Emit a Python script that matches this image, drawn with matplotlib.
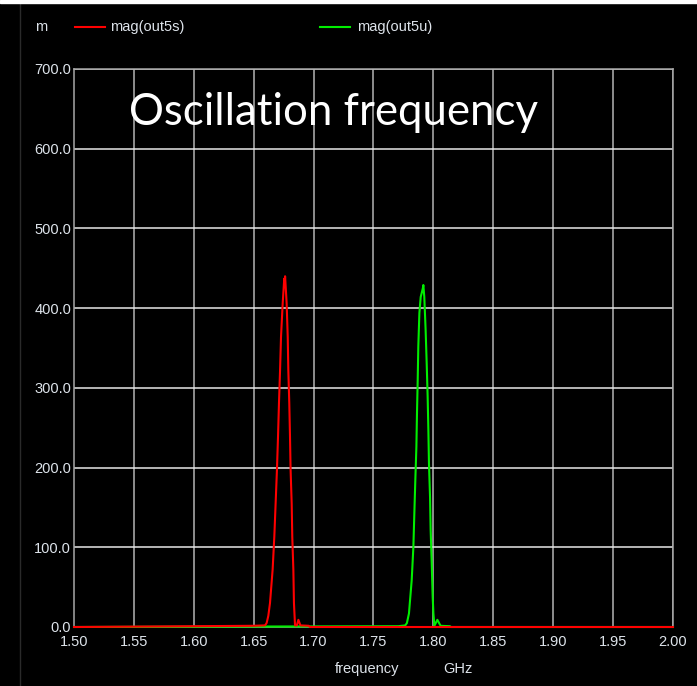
import numpy as np
import matplotlib
matplotlib.use("Agg")
import matplotlib.pyplot as plt
from matplotlib.lines import Line2D
from matplotlib.patches import Rectangle

# frequency (GHz) / magnitude (m) samples
red_f = [1.500, 1.649, 1.6594, 1.6608, 1.6622, 1.6636, 1.6658, 1.6672, 1.6683,
         1.6694, 1.6703, 1.6711, 1.6720, 1.6728, 1.6742, 1.6755, 1.6758, 1.6762,
         1.6775, 1.6784, 1.6789, 1.6797, 1.6803, 1.6808, 1.6817, 1.6822, 1.6831,
         1.6836, 1.6845, 1.6860, 1.6873, 1.6890, 1.696, 1.697, 2.000]
red_v = [0, 1.5, 2, 5, 14, 30, 72, 113, 155,
         197, 239, 281, 322, 364, 406, 437, 428, 440,
         406, 364, 322, 281, 239, 197, 155, 113, 72,
         30, 2, 2, 9, 2, 1.5, 0, 0]

green_f = [1.500, 1.7652, 1.7707, 1.7765, 1.7779, 1.7796, 1.7819, 1.7833, 1.7841,
           1.7849, 1.7858, 1.7863, 1.7869, 1.7874, 1.7883, 1.7894, 1.7912, 1.7916,
           1.7924, 1.7935, 1.7944, 1.7952, 1.7958, 1.7963, 1.7972, 1.7977, 1.7986,
           1.7994, 1.8000, 1.8008, 1.8033, 1.8060, 1.8139, 1.8145, 2.000]
green_v = [0, 1, 1, 2, 5, 17, 59, 101, 143,
           184, 226, 268, 310, 352, 394, 414, 425, 429,
           414, 373, 331, 289, 247, 205, 163, 122, 80,
           38, 17, 1.5, 9, 1.5, 1, 0, 0]

x_ticks = np.arange(1.50, 2.001, 0.05)
y_ticks = np.arange(0, 701, 100)

tick_font = ['Liberation Sans', 'DejaVu Sans']
txt_col = '#dde3ea'

fig = plt.figure(figsize=(6.97, 6.86), dpi=100, facecolor='black')
ax = fig.add_axes([74 / 697, 59 / 686, 599 / 697, 558 / 686])
ax.set_facecolor('black')

# grid, drawn over the title text as in the screenshot
for xv in x_ticks[1:]:
    ax.axvline(xv, color='#b4b4b4', lw=1.1, zorder=2)
for yv in y_ticks[1:]:
    ax.axhline(yv, color='#e6e6e6', lw=1.1, zorder=2)

ax.plot(green_f, green_v, color='#00ee00', lw=1.5, zorder=3, clip_on=False)
ax.plot(red_f, red_v, color='#ff0000', lw=1.5, zorder=4, clip_on=False)

ax.set_xlim(1.5, 2.0)
ax.set_ylim(0, 700)
ax.set_xticks(x_ticks)
ax.set_yticks(y_ticks)
ax.set_xticklabels([f"{v:.2f}" for v in x_ticks], family=tick_font, fontsize=10.5, color=txt_col)
ax.set_yticklabels([f"{v:.1f}" for v in y_ticks], family=tick_font, fontsize=10.5, color=txt_col)
ax.tick_params(axis='y', length=0, pad=2)
ax.tick_params(axis='x', length=0, pad=6)
for s in ax.spines.values():
    s.set_color('#a8a8a8')
    s.set_linewidth(1.1)

fig.text(129 / 697, 1 - 125 / 686, 'Oscillation frequency', family=['Lato', 'DejaVu Sans'],
         fontsize=31.5, color='white', va='baseline', ha='left', zorder=0.5)

fig.text(367 / 697, 1 - 669 / 686, 'frequency', family=tick_font, fontsize=10.5,
         color=txt_col, ha='center', va='center')
fig.text(458 / 697, 1 - 669 / 686, 'GHz', family=tick_font, fontsize=10.5,
         color=txt_col, ha='center', va='center')

# legend header
ly = 1 - 27 / 686
fig.text(35 / 697, ly, 'm', family=tick_font, fontsize=10.5, color=txt_col, va='center')
fig.add_artist(Line2D([75 / 697, 105 / 697], [ly, ly], color='#ff0000', lw=1.5))
fig.text(110 / 697, ly, 'mag(out5s)', family=tick_font, fontsize=10.5, color=txt_col, va='center')
fig.add_artist(Line2D([320 / 697, 350 / 697], [ly, ly], color='#00ee00', lw=1.5))
fig.text(357 / 697, ly, 'mag(out5u)', family=tick_font, fontsize=10.5, color=txt_col, va='center')

# frame bits around the screenshot
fig.add_artist(Line2D([20 / 697, 20 / 697], [0, 1], color='#2a2a2a', lw=1))
fig.patches.append(Rectangle((0, 1 - 3 / 686), 1, 3 / 686, transform=fig.transFigure,
                             color='white', zorder=5))

fig.savefig('out.png', dpi=100, facecolor='black')
